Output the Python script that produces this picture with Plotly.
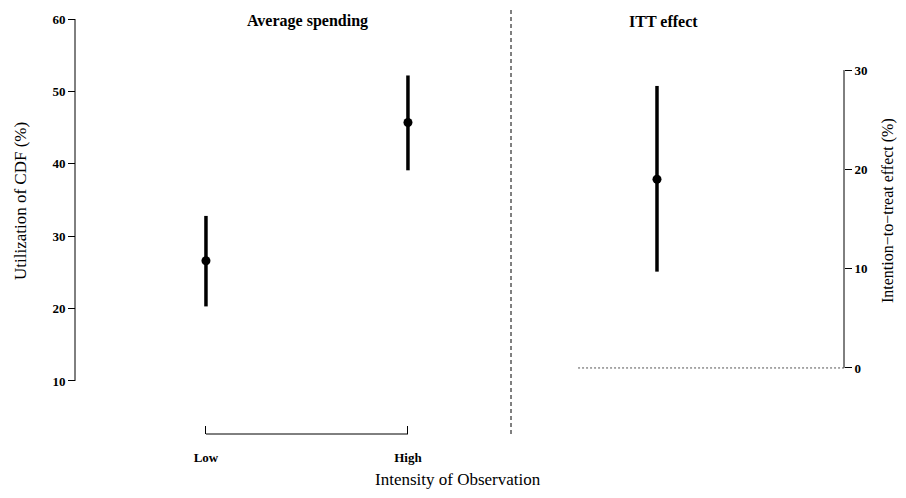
import plotly.graph_objects as go

# left panel: average spending by intensity
groups = ["Low", "High"]
group_pos = [0, 1]
avg_spend = [26.6, 45.7]
avg_lo = [20.3, 39.1]
avg_hi = [32.8, 52.2]

# right panel: ITT effect
itt = [19.0]
itt_lo = [9.7]
itt_hi = [28.4]

# page body has an 8px margin, so the plot is 890x482 starting at (8, 8)
W, H = 890, 482
px = lambda x: (x - 8) / W
py = lambda y: 1 - (y - 8) / H
tf = dict(family="Liberation Serif", size=13, color="black", weight="bold")

fig = go.Figure()
fig.add_trace(go.Scatter(
    x=group_pos, y=avg_spend, mode="markers",
    marker=dict(color="black", size=9),
    error_y=dict(type="data", symmetric=False,
                 array=[h - v for h, v in zip(avg_hi, avg_spend)],
                 arrayminus=[v - l for l, v in zip(avg_lo, avg_spend)],
                 color="black", thickness=3.5, width=0),
    xaxis="x", yaxis="y", showlegend=False))
fig.add_trace(go.Scatter(
    x=[0.4584], y=itt, mode="markers",
    marker=dict(color="black", size=9),
    error_y=dict(type="data", symmetric=False,
                 array=[h - v for h, v in zip(itt_hi, itt)],
                 arrayminus=[v - l for l, v in zip(itt_lo, itt)],
                 color="black", thickness=3.5, width=0),
    xaxis="x2", yaxis="y2", showlegend=False))

ann = dict(xref="paper", yref="paper", showarrow=False, xanchor="center", yanchor="middle")

fig.update_layout(
    width=W, height=H, margin=dict(l=0, r=0, t=0, b=0),
    plot_bgcolor="white", paper_bgcolor="white",
    font=dict(family="Liberation Serif", color="black"),
    xaxis=dict(domain=[0, 0.5], range=[-0.980, 1.223], anchor="free", position=py(434),
               tickvals=group_pos, ticktext=groups, ticks="inside", ticklen=8,
               ticklabelstandoff=14,
               tickcolor="black", tickfont=tf, showgrid=False, zeroline=False, showline=False),
    yaxis=dict(domain=[0, 1], range=[-5.06, 61.52], anchor="free", position=px(75),
               tickvals=[10, 20, 30, 40, 50, 60], ticks="outside", ticklen=7,
               tickcolor="black", tickfont=tf, showgrid=False, zeroline=False, showline=False),
    xaxis2=dict(domain=[0.5, 1], range=[0, 1], visible=False),
    yaxis2=dict(domain=[0, 1], range=[-12.29, 36.25], anchor="free", position=px(844),
                side="right", tickvals=[0, 10, 20, 30], ticks="outside", ticklen=7,
                tickcolor="black", tickfont=tf, showgrid=False, zeroline=False, showline=False),
    shapes=[
        dict(type="line", xref="paper", yref="y", x0=px(75), x1=px(75), y0=10, y1=60,
             line=dict(color="black", width=1)),
        dict(type="line", xref="x", yref="paper", x0=0, x1=1, y0=py(434), y1=py(434),
             line=dict(color="black", width=1)),
        dict(type="line", xref="paper", yref="y2", x0=px(844), x1=px(844), y0=0, y1=30,
             line=dict(color="black", width=1)),
        dict(type="line", xref="paper", yref="paper", x0=px(511), x1=px(511), y0=py(434), y1=1,
             line=dict(color="black", width=1, dash="4px,3px")),
        dict(type="line", xref="x2", yref="y2", x0=0.281, x1=0.879, y0=0, y1=0,
             line=dict(color="#555555", width=1, dash="2px,2px")),
    ],
    annotations=[
        dict(text="<b>Average spending</b>", x=px(307), y=py(21), font=dict(size=16), **ann),
        dict(text="<b>ITT effect</b>", x=px(663), y=py(21), font=dict(size=16), **ann),
        dict(text="Utilization of CDF (%)", x=px(20), y=py(201), textangle=-90,
             font=dict(size=17), **ann),
        dict(text="Intention−to−treat effect (%)", x=px(888), y=py(211), textangle=-90,
             font=dict(size=16), **ann),
        dict(text="Intensity of Observation", x=px(458), y=py(479), font=dict(size=17), **ann),
    ],
)
fig.write_html("out.html")
